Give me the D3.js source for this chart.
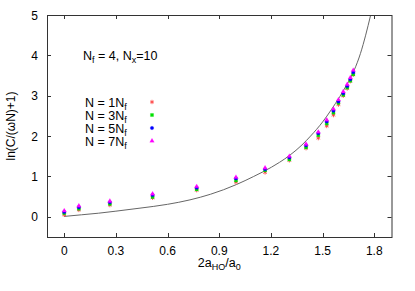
<!DOCTYPE html>
<html>
<head>
<meta charset="utf-8">
<script src="https://cdn.jsdelivr.net/npm/d3@7"></script>
<style>
body { margin: 0; background: #fff; }
svg { font-family: "Liberation Sans", Arial, sans-serif; }
</style>
</head>
<body>
<svg id="chart" width="415" height="291"></svg>
<script>
// values
const xs = [0, 0.085, 0.265, 0.513, 0.769, 0.997, 1.166, 1.307, 1.404, 1.475, 1.524, 1.563, 1.592, 1.62, 1.643, 1.661, 1.678];
const y1 = [0.05, 0.17, 0.29, 0.47, 0.66, 0.86, 1.10, 1.40, 1.70, 1.95, 2.25, 2.52, 2.78, 3.00, 3.18, 3.36, 3.52];
const y3 = [0.09, 0.20, 0.32, 0.49, 0.68, 0.90, 1.15, 1.42, 1.72, 2.02, 2.31, 2.58, 2.82, 3.02, 3.20, 3.37, 3.53];
const y5 = [0.12, 0.24, 0.36, 0.54, 0.72, 0.95, 1.18, 1.47, 1.77, 2.07, 2.36, 2.63, 2.86, 3.06, 3.24, 3.41, 3.58];
const y7 = [0.15, 0.27, 0.39, 0.57, 0.75, 0.98, 1.21, 1.50, 1.80, 2.10, 2.40, 2.67, 2.90, 3.10, 3.28, 3.45, 3.63];
const curveX = [0, 0.1, 0.2, 0.3, 0.44, 0.6, 0.73, 0.85, 1.0, 1.1, 1.156, 1.25, 1.311, 1.38, 1.43, 1.5, 1.55, 1.6, 1.65, 1.684, 1.72, 1.75, 1.779];
const curveY = [0.01, 0.05, 0.09, 0.14, 0.215, 0.31, 0.42, 0.56, 0.8, 1.0, 1.12, 1.35, 1.53, 1.78, 2.0, 2.35, 2.65, 2.98, 3.35, 3.64, 4.05, 4.5, 5.0];
const xTicks = [0, 0.3, 0.6, 0.9, 1.2, 1.5, 1.8];
const yTicks = [0, 1, 2, 3, 4, 5];
const labels = ["1", "3", "5", "7"];

const series = [
	{n: "1", ys: y1, color: "#ff3030", sym: d3.symbolAsterisk, size: 13},
	{n: "3", ys: y3, color: "#00e000", sym: d3.symbolSquare, size: 10},
	{n: "5", ys: y5, color: "#0000ff", sym: d3.symbolCircle, size: 10},
	{n: "7", ys: y7, color: "#ff00ff", sym: d3.symbolTriangle, size: 9}
];

let margin = {top: 15, right: 23.5, bottom: 54, left: 47};
let width = 415, height = 291;
let x = d3.scaleLinear().domain([-0.1, 1.9]).range([margin.left, width - margin.right]);
let y = d3.scaleLinear().domain([-0.5, 5]).range([height - margin.bottom, margin.top]);

let svg = d3.select("#chart");
let frameColor = "#333";

// ticks, mirrored on all four sides, pointing inwards
let tickLen = 4;
let g = svg.append("g").attr("stroke", frameColor).attr("stroke-width", 1);
xTicks.forEach(t => {
	let px = Math.round(x(t)) + 0.5;
	g.append("line").attr("x1", px).attr("x2", px).attr("y1", y.range()[0]).attr("y2", y.range()[0] - tickLen);
	g.append("line").attr("x1", px).attr("x2", px).attr("y1", y.range()[1]).attr("y2", y.range()[1] + tickLen);
});
yTicks.forEach(t => {
	let py = Math.round(y(t)) + 0.5;
	g.append("line").attr("y1", py).attr("y2", py).attr("x1", x.range()[0]).attr("x2", x.range()[0] + tickLen);
	g.append("line").attr("y1", py).attr("y2", py).attr("x1", x.range()[1]).attr("x2", x.range()[1] - tickLen);
});

svg.append("g").selectAll("text")
	.data(xTicks)
	.join("text")
	.attr("x", d => x(d))
	.attr("y", y.range()[0] + 18)
	.attr("text-anchor", "middle")
	.attr("font-size", 12)
	.text(d => d === 0 ? "0" : d.toFixed(1));

svg.append("g").selectAll("text")
	.data(yTicks)
	.join("text")
	.attr("x", x.range()[0] - 9)
	.attr("y", d => y(d) + 4.5)
	.attr("text-anchor", "end")
	.attr("font-size", 12)
	.text(d => d);

// theory curve
let line = d3.line()
	.x(d => x(d[0]))
	.y(d => y(d[1]))
	.curve(d3.curveMonotoneX);
svg.append("path")
	.datum(curveX.map((v, i) => [v, curveY[i]]))
	.attr("fill", "none")
	.attr("stroke", "#666")
	.attr("stroke-width", 1)
	.attr("d", line);

function mark(sel, s) {
	let filled = s.sym !== d3.symbolAsterisk;
	sel.attr("d", d3.symbol().type(s.sym).size(s.size))
		.attr("fill", filled ? s.color : "none")
		.attr("stroke", s.color)
		.attr("stroke-width", filled ? 0.2 : 0.8);
}

// data points
series.forEach(s => {
	svg.append("g").selectAll("path")
		.data(xs.map((v, i) => [v, s.ys[i]]))
		.join("path")
		.attr("transform", d => `translate(${x(d[0])},${y(d[1])})`)
		.call(mark, s);
});

// frame
svg.append("rect")
	.attr("x", x.range()[0] + 0.5)
	.attr("y", y.range()[1] + 0.5)
	.attr("width", x.range()[1] - x.range()[0])
	.attr("height", y.range()[0] - y.range()[1])
	.attr("fill", "none")
	.attr("stroke", frameColor)
	.attr("stroke-width", 1);

// annotation
let note = svg.append("text").attr("x", 83).attr("y", 60).attr("font-size", 12.5);
note.append("tspan").text("N");
note.append("tspan").attr("font-size", 9).attr("dy", 3).text("f");
note.append("tspan").attr("dy", -3).text(" = 4, N");
note.append("tspan").attr("font-size", 9).attr("dy", 3).text("x");
note.append("tspan").attr("dy", -3).text("=10");

// legend
series.forEach((s, i) => {
	let ly = 102 + i * 13;
	let t = svg.append("text").attr("x", 85).attr("y", ly + 4.5).attr("font-size", 12.5);
	t.append("tspan").text(`N = ${labels[i]}N`);
	t.append("tspan").attr("font-size", 9).attr("dy", 3).text("f");
	svg.append("path")
		.attr("transform", `translate(152,${ly})`)
		.call(mark, s);
});

// axis titles
let xl = svg.append("text").attr("x", (x.range()[0] + x.range()[1]) / 2).attr("y", 267)
	.attr("text-anchor", "middle").attr("font-size", 12.5);
xl.append("tspan").text("2a");
xl.append("tspan").attr("font-size", 9).attr("dy", 3).text("HO");
xl.append("tspan").attr("dy", -3).text("/a");
xl.append("tspan").attr("font-size", 9).attr("dy", 3).text("0");

svg.append("text")
	.attr("transform", `translate(15,${(y.range()[0] + y.range()[1]) / 2}) rotate(-90)`)
	.attr("text-anchor", "middle")
	.attr("font-size", 12)
	.text("ln(C/(\u03c9N)+1)");
</script>
</body>
</html>
